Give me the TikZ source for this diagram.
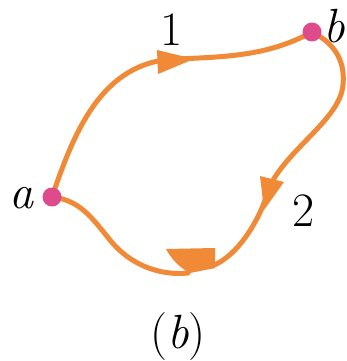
\documentclass[tikz,border=0pt]{standalone}
\definecolor{curve}{HTML}{F08A36}
\definecolor{dotc}{HTML}{DE4A8C}
\begin{document}
\begin{tikzpicture}[x=1pt,y=-1pt,
  path/.style={draw=curve,line width=5pt,line cap=round},
  head/.style={fill=curve},
  dot/.style={circle,fill=dotc,minimum size=19pt,inner sep=0pt},
  lbl/.style={font=\fontsize{48}{52}\selectfont,inner sep=0pt}]
\path[use as bounding box] (0,0) rectangle (347,361);
\coordinate (a) at (52,197);
\coordinate (b) at (312,32);
% path 1
\draw[path] (a) .. controls (74,132) and (102,62) .. (175,59)
  .. controls (230,57) and (270,55) .. (b);
\fill[head] (194,59) -- (157,50) -- (158,74) -- cycle;
% path 2
\draw[path] (b) .. controls (328,40) and (346,55) .. (343,85)
  .. controls (340,120) and (285,150) .. (268,190)
  .. controls (262,215) and (240,255) .. (212,266);
\fill[head] (264,210) -- (260,176) -- (284,182) -- cycle;
\fill[head] (215,248) -- (166,249) .. controls (172,260) and (180,268) .. (190,273) -- (215,268) -- cycle;
\draw[path] (a) .. controls (80,200) and (92,218) .. (110,240)
  .. controls (130,265) and (160,276) .. (188,273);
\node[dot] (da) at (a) {};
\node[dot] (db) at (b) {};
\node[lbl] (la) at (22,198) {\textit{a}};
\node[lbl] (lb) at (334,26) {\textit{b}};
\node[lbl] (l1) at (172,30) {1};
\node[lbl] (l2) at (304,211) {2};
\node[lbl] (cap) at (178,337) {(\textit{b})};
\end{tikzpicture}
\end{document}
